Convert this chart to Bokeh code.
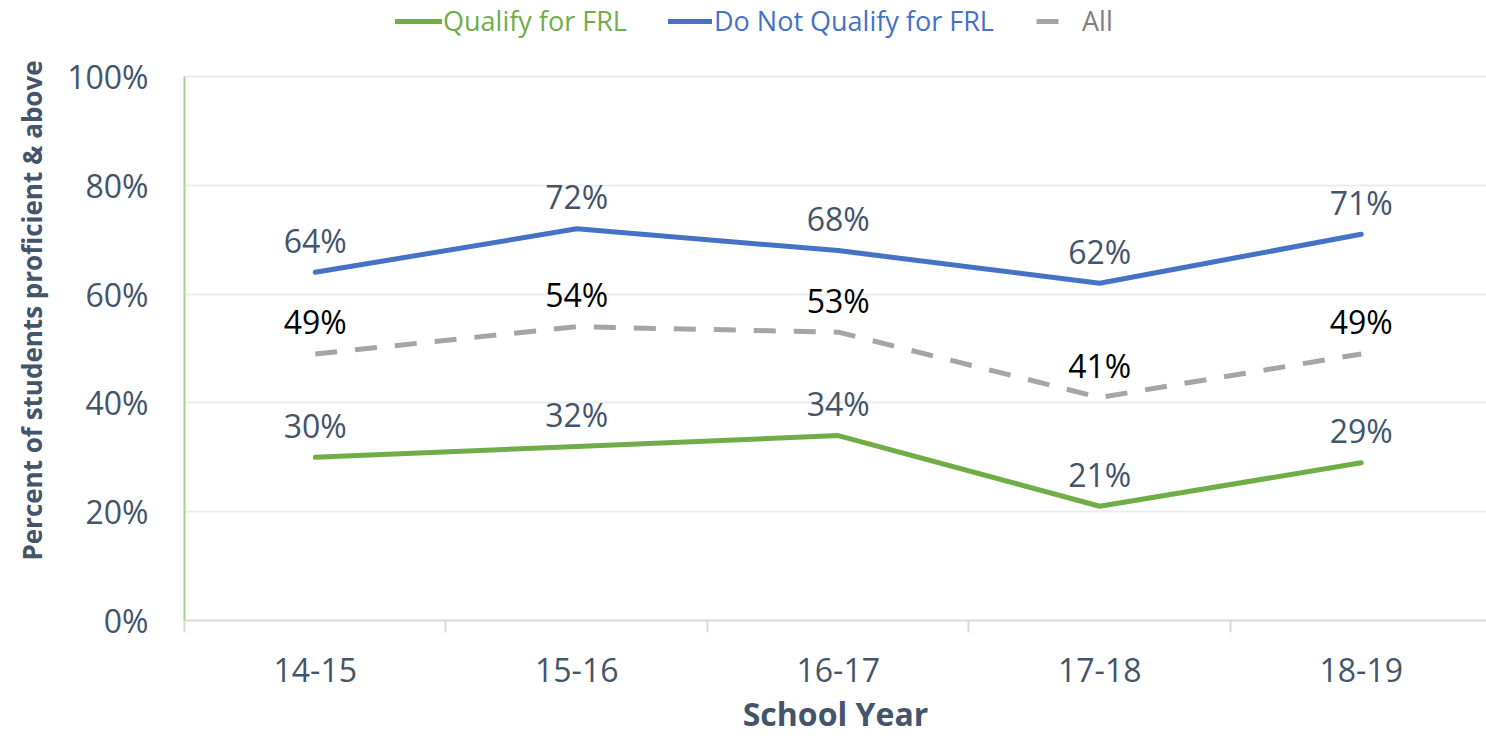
from bokeh.plotting import figure
from bokeh.models import (Range1d, FixedTicker, Legend, LegendItem, ColumnDataSource)
from bokeh.embed import file_html
from bokeh.resources import INLINE
from bokeh.core.properties import value

# ---- data ----
years = ["14-15", "15-16", "16-17", "17-18", "18-19"]
qualify = [30, 32, 34, 21, 29]
not_qualify = [64, 72, 68, 62, 71]
all_students = [49, 54, 53, 41, 49]
y_ticks = [0, 20, 40, 60, 80, 100]

FONT = "Open Sans"
SLATE = "#44546A"
GREEN = "#70AD47"
BLUE = "#4472C4"
GRAY = "#A5A5A5"

xs = [i + 0.5 for i in range(len(years))]

# frame spans canvas y 0..620 so the legend (drawn inside the frame) is not clipped;
# 100% maps to y=76
p = figure(width=1486, height=738, output_backend="svg", toolbar_location=None,
           x_range=Range1d(0, 4.979), y_range=Range1d(0, 100 * 620 / 544),
           min_border_left=184, min_border_top=0, min_border_bottom=118,
           min_border_right=0)
p.outline_line_color = None
p.background_fill_color = "white"
p.border_fill_color = "white"

src_q = ColumnDataSource(dict(x=xs, y=qualify, t=[f"{v}%" for v in qualify]))
src_n = ColumnDataSource(dict(x=xs, y=not_qualify, t=[f"{v}%" for v in not_qualify]))
src_a = ColumnDataSource(dict(x=xs, y=all_students, t=[f"{v}%" for v in all_students]))

r_q = p.line("x", "y", source=src_q, line_color=GREEN, line_width=5, line_join="round", line_cap="round")
r_n = p.line("x", "y", source=src_n, line_color=BLUE, line_width=5, line_join="round", line_cap="round")
r_a = p.line("x", "y", source=src_a, line_color=GRAY, line_width=5, line_dash="22 18")

for src, col in ((src_q, SLATE), (src_n, SLATE), (src_a, "black")):
    p.text("x", "y", text="t", source=src, text_align="center",
           text_baseline="alphabetic", y_offset=-32, text_font=value(FONT),
           text_font_size="32px", text_color=col)

# axes
p.xaxis.ticker = FixedTicker(ticks=xs, minor_ticks=[0, 1, 2, 3, 4])
p.xaxis.major_label_overrides = {x: y for x, y in zip(xs, years)}
p.xaxis.major_tick_line_color = None
p.xaxis.minor_tick_line_color = "#D9D9D9"
p.xaxis.minor_tick_line_width = 2
p.xaxis.minor_tick_out = 12
p.xaxis.minor_tick_in = 0
p.xaxis.axis_line_color = "#D9D9D9"
p.xaxis.axis_line_width = 2
p.xaxis.major_label_text_font = FONT
p.xaxis.major_label_text_font_size = "32px"
p.xaxis.major_label_text_color = SLATE
p.xaxis.major_label_standoff = 25
p.xaxis.axis_label = "School Year"
p.xaxis.axis_label_text_font = FONT
p.xaxis.axis_label_text_font_style = "bold"
p.xaxis.axis_label_text_font_size = "32px"
p.xaxis.axis_label_text_color = SLATE
p.xaxis.axis_label_standoff = 7

p.yaxis.ticker = FixedTicker(ticks=y_ticks)
p.yaxis.bounds = (0, 100)
p.yaxis.major_label_overrides = {v: f"{v}%" for v in y_ticks}
p.yaxis.major_tick_line_color = None
p.yaxis.minor_tick_line_color = None
p.yaxis.axis_line_color = "#A9D18E"
p.yaxis.axis_line_width = 2
p.yaxis.major_label_text_font = FONT
p.yaxis.major_label_text_font_size = "32px"
p.yaxis.major_label_text_color = SLATE
p.yaxis.major_label_standoff = 30
p.yaxis.axis_label = "Percent of students proficient & above"
p.yaxis.axis_label_text_font = FONT
p.yaxis.axis_label_text_font_style = "bold"
p.yaxis.axis_label_text_font_size = "26px"
p.yaxis.axis_label_text_color = SLATE
p.yaxis.axis_label_standoff = 14

p.xgrid.grid_line_color = None
p.ygrid.ticker = FixedTicker(ticks=[20, 40, 60, 80, 100])
p.ygrid.grid_line_color = "#EBEBF0"
p.ygrid.grid_line_width = 2

# legend: one per item so each label has its own colour
def make_legend(renderer, label, color, x, gw, standoff):
    return Legend(items=[LegendItem(label=label, renderers=[renderer])],
                  location=(x, 581), orientation="horizontal",
                  label_text_font=FONT, label_text_font_size="27px",
                  label_text_color=color, glyph_width=gw, glyph_height=30,
                  label_standoff=standoff, padding=0, margin=0, spacing=0,
                  border_line_color=None, background_fill_alpha=0)

p.add_layout(make_legend(r_q, "Qualify for FRL", GREEN, 211, 47, 1))
p.add_layout(make_legend(r_n, "Do Not Qualify for FRL", BLUE, 484, 44, 2))
p.add_layout(make_legend(r_a, "All", "#7F7F7F", 852, 40, 6))

open("out.html", "w").write(file_html(p, INLINE))
